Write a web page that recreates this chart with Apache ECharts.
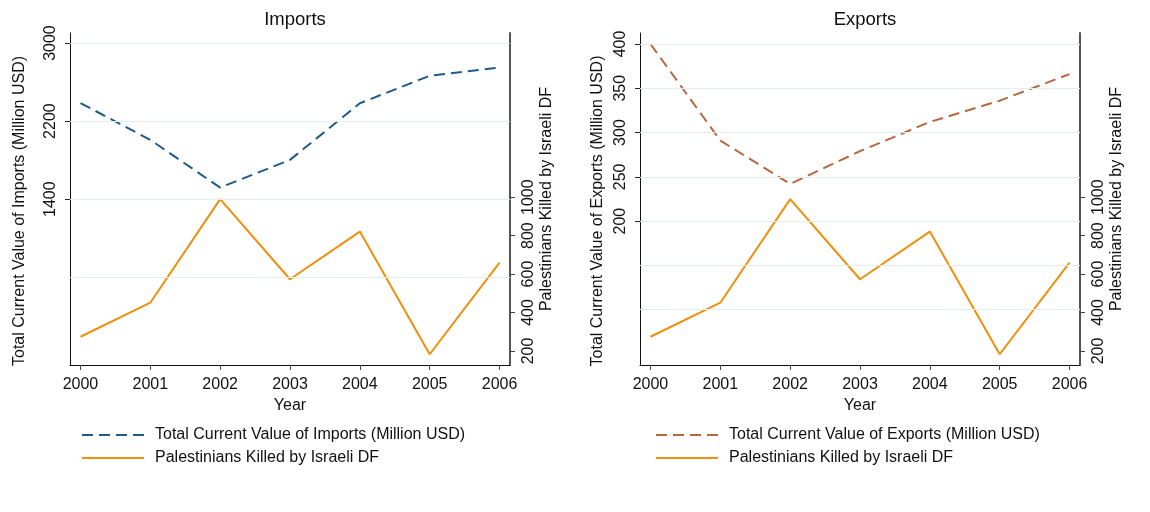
<!DOCTYPE html>
<html>
<head>
<meta charset="utf-8">
<title>Imports / Exports and Palestinians Killed, 2000–2006</title>
<script src="https://cdn.jsdelivr.net/npm/echarts@6/dist/echarts.min.js"></script>
<style>
  html, body { margin: 0; padding: 0; background: #fff; }
  #chart { width: 1150px; height: 512px; }
</style>
</head>
<body>
<div id="chart"></div>
<script>
// Years on the shared x axis
const years = [2000, 2001, 2002, 2003, 2004, 2005, 2006];

// Total current value of imports / exports (million USD)
const imports = [2385, 2008, 1519, 1803, 2383, 2665, 2750];
const exports = [400, 291, 242, 279, 312, 336, 366];

// Palestinians killed by Israeli DF (same series in both panels)
const killed = [274, 451, 990, 573, 821, 183, 660];

// Tick labels and grid lines
const importTicks = [1400, 2200, 3000];
const importGrid = [600, 1400, 2200, 3000];
const exportTicks = [200, 250, 300, 350, 400];
const exportGrid = [100, 150, 200, 250, 300, 350, 400];
const killedTicks = [200, 400, 600, 800, 1000];

const importName = 'Total Current Value of Imports (Million USD)';
const exportName = 'Total Current Value of Exports (Million USD)';
const killedName = 'Palestinians Killed by Israeli DF';

const FONT = '"Liberation Sans", Arial, Helvetica, sans-serif';
const C_IMP = '#1e5a85';
const C_EXP = '#b5673f';
const C_KIL = '#ef8f0c';
const C_GRID = '#e3eeed';
const FS = 16;

const plain = (v) => String(v);
const pairs = (vals) => years.map((y, i) => [y, vals[i]]);

function xAxisFor(gridIndex) {
  return {
    type: 'value', gridIndex, min: 1999.85, max: 2006.15,
    name: 'Year', nameLocation: 'middle', nameGap: 22,
    nameTextStyle: { fontFamily: FONT, fontSize: FS, color: '#111' },
    axisLine: { show: true, onZero: false, lineStyle: { color: '#111', width: 1 } },
    axisTick: { show: true, length: 5, customValues: years, lineStyle: { color: '#444' } },
    axisLabel: { customValues: years, formatter: plain, margin: 12, fontFamily: FONT, fontSize: FS, color: '#111' },
    splitLine: { show: false }
  };
}

function leftAxis(gridIndex, min, max, ticks, name, gap) {
  return {
    type: 'value', gridIndex, position: 'left', min, max,
    name, nameLocation: 'middle', nameGap: gap, nameRotate: 90,
    nameTextStyle: { fontFamily: FONT, fontSize: FS, color: '#111', padding: [0, 24, 0, 0] },
    axisLine: { show: true, onZero: false, lineStyle: { color: '#111', width: 1 } },
    axisTick: { show: true, length: 5, customValues: ticks, lineStyle: { color: '#222' } },
    axisLabel: { customValues: ticks, formatter: plain, rotate: 90, margin: 11, fontFamily: FONT, fontSize: FS, color: '#111' },
    splitLine: { show: false }
  };
}

function rightAxis(gridIndex) {
  return {
    type: 'value', gridIndex, position: 'right', min: 127, max: 1854,
    name: killedName, nameLocation: 'middle', nameGap: 29, nameRotate: 90,
    nameTextStyle: { fontFamily: FONT, fontSize: FS, color: '#111' },
    axisLine: { show: true, onZero: false, lineStyle: { color: '#555', width: 2 } },
    axisTick: { show: true, length: 5, customValues: killedTicks, lineStyle: { color: '#444' } },
    axisLabel: { customValues: killedTicks, formatter: plain, rotate: 90, margin: 11, fontFamily: FONT, fontSize: FS, color: '#111' },
    splitLine: { show: false }
  };
}

// Light horizontal grid lines drawn behind the data
function gridSeries(xi, yi, values) {
  return {
    type: 'line', xAxisIndex: xi, yAxisIndex: yi, data: pairs(values.map(() => values[0])),
    symbol: 'none', silent: true, z: 0, lineStyle: { opacity: 0 }, tooltip: { show: false },
    markLine: {
      silent: true, symbol: ['none', 'none'], animation: false,
      label: { show: false },
      lineStyle: { color: C_GRID, type: 'solid', width: 1.2 },
      data: values.map(v => ({ yAxis: v }))
    }
  };
}

function dataSeries(name, xi, yi, vals, color, dashed) {
  return {
    name, type: 'line', xAxisIndex: xi, yAxisIndex: yi, data: pairs(vals),
    symbol: 'none', showSymbol: false, z: dashed ? 3 : 2,
    lineStyle: { color, width: 2, type: dashed ? [11, 6] : 'solid' },
    itemStyle: { color }
  };
}

function legendFor(left, first) {
  return {
    orient: 'vertical', left, top: 422, itemWidth: 62, itemHeight: 14, itemGap: 7,
    data: [{ name: first }, { name: killedName }],
    itemStyle: { opacity: 0 },
    textStyle: { fontFamily: FONT, fontSize: FS, lineHeight: 14, color: '#111', padding: [0, 0, 0, 6] },
    selectedMode: false
  };
}

const option = {
  animation: false,
  backgroundColor: '#fff',
  title: [
    { text: 'Imports', left: 290, top: 5, textAlign: 'center',
      textStyle: { fontFamily: FONT, fontSize: 18.5, fontWeight: 'normal', color: '#111' } },
    { text: 'Exports', left: 860, top: 5, textAlign: 'center',
      textStyle: { fontFamily: FONT, fontSize: 18.5, fontWeight: 'normal', color: '#111' } }
  ],
  grid: [
    { left: 70, top: 33, width: 440, height: 332 },
    { left: 640, top: 33, width: 440, height: 332 }
  ],
  xAxis: [xAxisFor(0), xAxisFor(1)],
  yAxis: [
    leftAxis(0, -299, 3103, importTicks, importName, 42),
    rightAxis(0),
    leftAxis(1, 37.6, 412.4, exportTicks, exportName, 34),
    rightAxis(1)
  ],
  // Each legend lists only the series of its own panel
  legend: [
    legendFor(76, importName),
    legendFor(650, exportName)
  ],
  series: [
    gridSeries(0, 0, importGrid),
    gridSeries(1, 2, exportGrid),
    dataSeries(importName, 0, 0, imports, C_IMP, true),
    dataSeries(killedName, 0, 1, killed, C_KIL, false),
    dataSeries(exportName, 1, 2, exports, C_EXP, true),
    dataSeries(killedName, 1, 3, killed, C_KIL, false)
  ]
};

const chart = echarts.init(document.getElementById('chart'), null, { renderer: 'canvas' });
chart.setOption(option);
</script>
</body>
</html>
